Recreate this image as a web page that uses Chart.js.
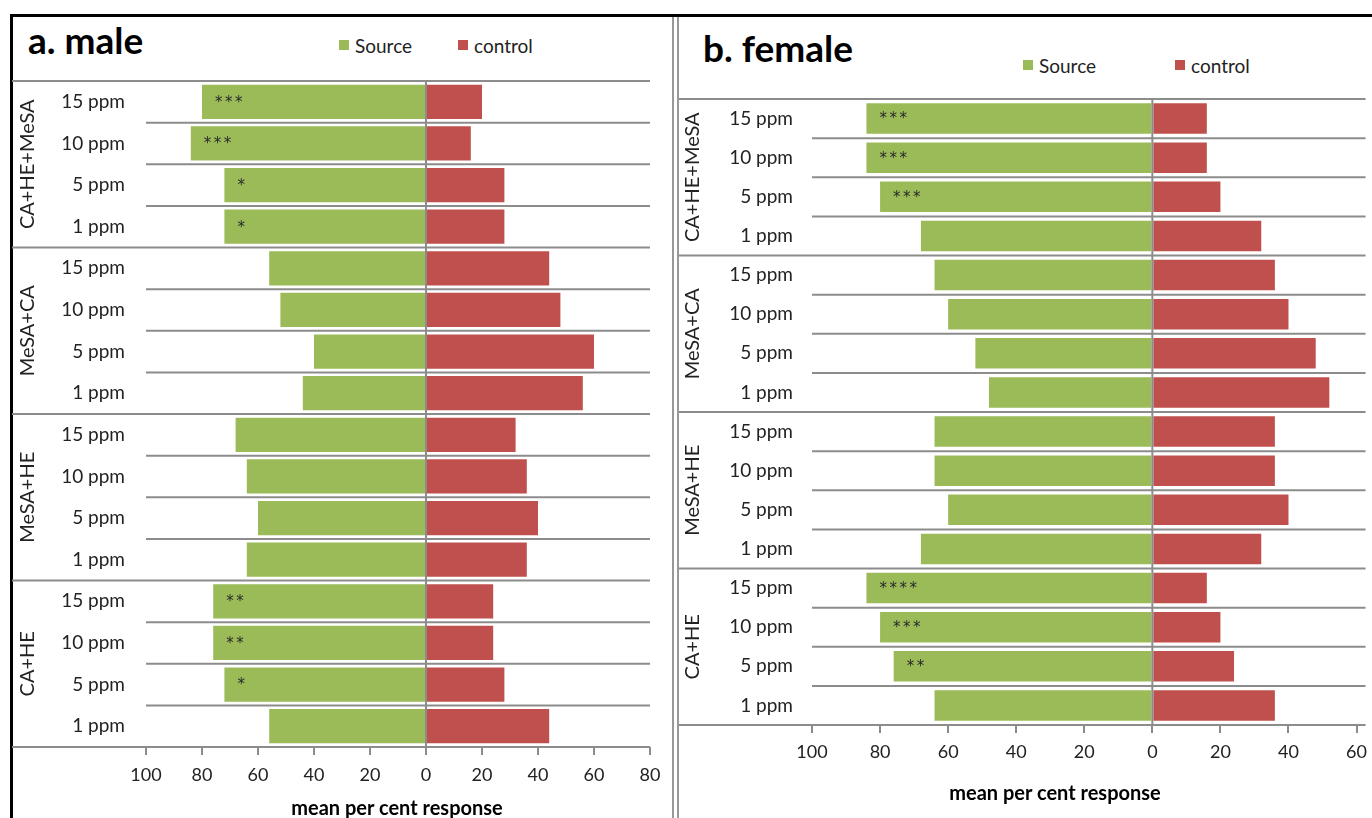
<!DOCTYPE html>
<html>
<head>
<meta charset="utf-8">
<script src="https://cdn.jsdelivr.net/npm/chart.js@4.4.1/dist/chart.umd.min.js"></script>
<style>
body { margin: 0; width: 1372px; height: 818px; background: #fff; position: relative; overflow: hidden; font-family: Lato, "Open Sans", sans-serif; color: #222; }
.linea { position: absolute; }
canvas { position: absolute; }
.titulo { position: absolute; font-weight: bold; font-size: 37px; line-height: 37px; color: #000; }
.leyenda { position: absolute; font-size: 19px; height: 24px; display: flex; align-items: center; }
.caja { width: 10px; height: 10px; display: inline-block; margin-right: 6px; }
.ejeTitulo { position: absolute; font-weight: bold; font-size: 20px; line-height: 22px; transform: translateX(-50%); white-space: nowrap; color: #000; }
</style>
</head>
<body>
<div class="linea" style="left:10px; top:14px; width:1362px; height:3px; background:#000;"></div>
<div class="linea" style="left:10px; top:14px; width:3px; height:804px; background:#000;"></div>
<div class="linea" style="left:672px; top:17px; width:2px; height:801px; background:#999;"></div>
<div class="linea" style="left:677px; top:17px; width:2px; height:801px; background:#999;"></div>

<div class="titulo" style="left:28px; top:21px;">a. male</div>
<div class="leyenda" style="left:339px; top:33px;"><span class="caja" style="background:#9BBB59"></span>Source</div>
<div class="leyenda" style="left:458px; top:33px;"><span class="caja" style="background:#C0504D"></span>control</div>

<div class="titulo" style="left:703px; top:29px;">b. female</div>
<div class="leyenda" style="left:1023px; top:53px;"><span class="caja" style="background:#9BBB59"></span>Source</div>
<div class="leyenda" style="left:1175px; top:53px;"><span class="caja" style="background:#C0504D"></span>control</div>

<canvas id="chartMale" width="660" height="802" style="left:12px; top:16px;"></canvas>
<canvas id="chartFemale" width="696" height="802" style="left:679px; top:16px;"></canvas>

<div class="ejeTitulo" style="left:397px; top:796px;">mean per cent response</div>
<div class="ejeTitulo" style="left:1055px; top:781px;">mean per cent response</div>

<script>
const grupos = ['CA+HE+MeSA', 'MeSA+CA', 'MeSA+HE', 'CA+HE'];
const dosis = ['15 ppm', '10 ppm', '5 ppm', '1 ppm'];
const etiquetas = [];
grupos.forEach(function () { dosis.forEach(d => etiquetas.push(d)); });

const sourceMale  = [80, 84, 72, 72, 56, 52, 40, 44, 68, 64, 60, 64, 76, 76, 72, 56];
const controlMale = [20, 16, 28, 28, 44, 48, 60, 56, 32, 36, 40, 36, 24, 24, 28, 44];
const sigMale = ['***', '***', '*', '*', '', '', '', '', '', '', '', '', '**', '**', '*', ''];

const sourceFemale  = [84, 84, 80, 68, 64, 60, 52, 48, 64, 64, 60, 68, 84, 80, 76, 64];
const controlFemale = [16, 16, 20, 32, 36, 40, 48, 52, 36, 36, 40, 32, 16, 20, 24, 36];
const sigFemale = ['***', '***', '***', '', '', '', '', '', '', '', '', '', '****', '***', '**', ''];

const ticksMale = { min: -100, max: 80 };
const ticksFemale = { min: -100, max: 60 };

// lineas de filas, linea del cero, nombres de grupo y asteriscos
const marcasPlugin = {
    id: 'marcas',
    afterDatasetsDraw(chart, args, opts) {
        const { ctx, chartArea, scales: { x, y } } = chart;
        const n = chart.data.labels.length;
        const fila = y.getPixelForValue(1) - y.getPixelForValue(0);
        ctx.save();
        ctx.strokeStyle = '#8c8c8c';
        ctx.lineWidth = 2;
        for (let i = 0; i <= n; i++) {
            const py = i < n ? y.getPixelForValue(i) - fila / 2 : y.getPixelForValue(n - 1) + fila / 2;
            const borde = i % dosis.length === 0;
            ctx.beginPath();
            ctx.moveTo(borde ? 0 : chartArea.left, py);
            ctx.lineTo(chartArea.right + opts.extra, py);
            ctx.stroke();
        }
        const x0 = x.getPixelForValue(0);
        ctx.beginPath();
        ctx.moveTo(x0, chartArea.top);
        ctx.lineTo(x0, chartArea.bottom);
        ctx.stroke();

        ctx.fillStyle = '#222';
        ctx.font = '20px Lato';
        ctx.textAlign = 'center';
        ctx.textBaseline = 'middle';
        grupos.forEach((g, k) => {
            const yc = (y.getPixelForValue(k * 4) + y.getPixelForValue(k * 4 + 3)) / 2;
            ctx.save();
            ctx.translate(opts.grupoX, yc);
            ctx.rotate(-Math.PI / 2);
            ctx.fillText(g, 0, 0);
            ctx.restore();
        });

        ctx.font = '15px "DejaVu Sans"';
        ctx.textAlign = 'left';
        ctx.fillStyle = '#2a2a2a';
        const fuente = chart.data.datasets[0].data;
        opts.sig.forEach((s, i) => {
            const px = x.getPixelForValue(fuente[i]) + 13;
            const py = y.getPixelForValue(i) + 1;
            for (let c = 0; c < s.length; c++) {
                ctx.fillText('*', px + c * 10, py);
            }
        });
        ctx.restore();
    }
};

function crearPanel(id, source, control, sig, rango, medidas) {
    const ctx = document.getElementById(id).getContext('2d');
    return new Chart(ctx, {
        type: 'bar',
        data: {
            labels: etiquetas,
            datasets: [{
                label: 'Source',
                data: source.map(v => -v),
                backgroundColor: '#9BBB59',
                barPercentage: medidas.barra,
                categoryPercentage: 1
            }, {
                label: 'control',
                data: control,
                backgroundColor: '#C0504D',
                barPercentage: medidas.barra,
                categoryPercentage: 1
            }]
        },
        options: {
            indexAxis: 'y',
            responsive: false,
            animation: false,
            layout: { padding: { top: medidas.arriba, right: medidas.derecha, left: 0, bottom: 0 } },
            scales: {
                x: {
                    stacked: true,
                    min: rango.min,
                    max: rango.max,
                    afterFit: function (scale) { scale.height = medidas.abajo; },
                    grid: { drawOnChartArea: false, drawTicks: true, tickLength: 8, color: '#8c8c8c', lineWidth: 2 },
                    border: { display: false },
                    ticks: {
                        stepSize: 20,
                        padding: medidas.pad,
                        color: '#222',
                        font: { family: 'Lato', size: 18 },
                        callback: v => Math.abs(v)
                    }
                },
                y: {
                    stacked: true,
                    afterFit: function (scale) { scale.width = medidas.izquierda; },
                    grid: { display: false, drawTicks: false },
                    border: { display: false },
                    ticks: {
                        autoSkip: false,
                        padding: medidas.padY,
                        color: '#222',
                        font: { family: 'Lato', size: 19 }
                    }
                }
            },
            plugins: {
                legend: { display: false },
                tooltip: { enabled: false },
                marcas: { sig: sig, grupoX: medidas.grupoX, extra: medidas.extra }
            }
        },
        plugins: [marcasPlugin]
    });
}

crearPanel('chartMale', sourceMale, controlMale, sigMale, ticksMale,
    { barra: 0.82, arriba: 65, derecha: 22, abajo: 71, izquierda: 134, pad: 9, padY: 21, grupoX: 16, extra: 0 });
crearPanel('chartFemale', sourceFemale, controlFemale, sigFemale, ticksFemale,
    { barra: 0.78, arriba: 83, derecha: 12, abajo: 93, izquierda: 133, pad: 8, padY: 19, grupoX: 14, extra: 9 });
</script>
</body>
</html>
